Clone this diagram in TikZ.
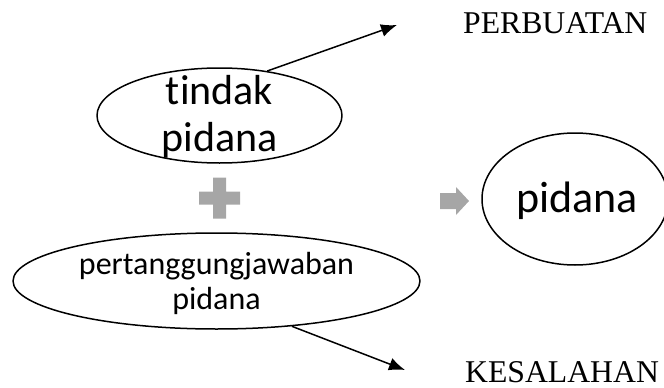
\documentclass[tikz,border=0pt]{standalone}
\usepackage{fontspec}
\setmainfont{Liberation Serif}
\newfontfamily\calfont[Ligatures={NoCommon,NoDiscretionary,NoRare}]{Carlito}
\usetikzlibrary{shapes.geometric,arrows.meta}
\tikzset{
  oval/.style={draw, ellipse, line width=1.5pt, inner sep=0pt},
  grayshape/.style={fill=black!35, draw=none}
}
\begin{document}
\begin{tikzpicture}[x=1pt, y=-1pt, line join=round, >={Latex[length=16pt,width=13pt]}]
  \useasboundingbox (0,0) rectangle (664,388);
  % ovals
  \node[oval, minimum width=245pt, minimum height=95pt] (tp) at (219.5,115.5) {};
  \node[oval, minimum width=407pt, minimum height=96pt] (ptj) at (216.5,281) {};
  \node[oval, minimum width=186pt, minimum height=132pt] (pid) at (575,199) {};
  % texts
  \node[align=center, inner sep=0pt, font=\calfont\fontsize{42}{47}\selectfont] (tptext) at (219.5,117) {tindak\\pidana};
  \node[align=center, inner sep=0pt, font=\calfont\fontsize{32}{35}\selectfont] (ptjtext) at (216.5,283) {pertanggungjawaban\\pidana};
  \node[anchor=base, inner sep=0pt, font=\calfont\fontsize{44}{50}\selectfont] (pidtext) at (577,212) {pidana};
  \node[anchor=base west, inner sep=0pt, font=\fontsize{31.7}{36}\selectfont] (perb) at (463,34) {PERBUATAN};
  \node[anchor=base west, inner sep=0pt, font=\fontsize{31.7}{36}\selectfont] (kes) at (465,382) {KESALAHAN};
  % arrow ends
  \coordinate (perbtip) at (397,25);
  \coordinate (kestip) at (405,370);
  \draw[->, line width=1.5pt] (tp.43) -- (perbtip);
  \draw[->, line width=1.5pt] (ptj.-31) -- (kestip);
  % plus sign
  \fill[grayshape] (213,177.5) rectangle (226,218.5) (199,191.5) rectangle (240,204.5);
  % gray arrow
  \fill[grayshape] (440,193) -- (456,193) -- (456,187) -- (469,201) -- (456,215) -- (456,209) -- (440,209) -- cycle;
\end{tikzpicture}
\end{document}
